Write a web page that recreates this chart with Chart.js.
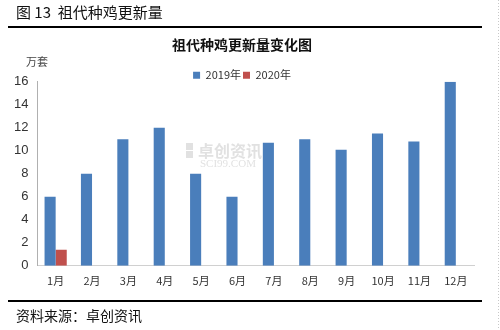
<!DOCTYPE html>
<html>
<head>
<meta charset="utf-8">
<script src="https://cdn.jsdelivr.net/npm/chart.js@4"></script>
<style>
  html, body { margin: 0; padding: 0; background: #fff; }
  #wrap { position: relative; width: 500px; height: 330px; }
</style>
</head>
<body>
<div id="wrap"><canvas id="chart" width="500" height="330"></canvas></div>
<script>
const months = ["1月", "2月", "3月", "4月", "5月", "6月", "7月", "8月", "9月", "10月", "11月", "12月"];
const values2019 = [6, 8, 11, 12, 8, 6, 10.7, 11, 10.1, 11.5, 10.8, 16];
const values2020 = [1.4, null, null, null, null, null, null, null, null, null, null, null];

const cjk = "'Noto Sans CJK SC', 'Microsoft YaHei', sans-serif";

// header, footer, unit label, watermark
const framePlugin = {
  id: "frame",
  beforeDraw(chart) {
    const c = chart.ctx;
    c.save();
    c.fillStyle = "#fff";
    c.fillRect(0, 0, chart.width, chart.height);

    // watermark
    c.fillStyle = "rgba(170,170,170,0.35)";
    c.fillRect(186, 143, 7, 7);
    c.fillRect(186, 151, 7, 7);
    c.font = "bold 16px " + cjk;
    c.textBaseline = "middle";
    c.fillText("卓创资讯", 198, 151);
    c.font = "11px 'Liberation Serif', serif";
    c.fillText("SCI99.COM", 200, 164);

    // dotted right border
    c.strokeStyle = "#c8c8c8";
    c.setLineDash([1, 2]);
    c.lineWidth = 1;
    c.beginPath();
    c.moveTo(498.5, 0);
    c.lineTo(498.5, 330);
    c.stroke();
    c.restore();
  },
  afterDraw(chart) {
    const c = chart.ctx;
    c.save();
    c.fillStyle = "#111";
    c.textBaseline = "middle";
    c.font = "15px " + cjk;
    c.fillText("图 13  祖代种鸡更新量", 16, 12);
    c.font = "14px " + cjk;
    c.fillText("资料来源：卓创资讯", 16, 316);

    c.strokeStyle = "#000";
    c.lineWidth = 2;
    c.beginPath();
    c.moveTo(8, 27);
    c.lineTo(482, 27);
    c.moveTo(8, 301);
    c.lineTo(482, 301);
    c.stroke();

    c.fillStyle = "#444";
    c.font = "11px " + cjk;
    c.textAlign = "center";
    c.fillText("万套", 37, 62);
    c.restore();
  }
};

new Chart(document.getElementById("chart"), {
  type: "bar",
  data: {
    labels: months,
    datasets: [
      { label: "2019年", data: values2019, backgroundColor: "#4a7ebb" },
      { label: "2020年", data: values2020, backgroundColor: "#c0504d" }
    ]
  },
  options: {
    responsive: false,
    animation: false,
    devicePixelRatio: 1,
    categoryPercentage: 0.61,
    barPercentage: 1.0,
    layout: { padding: { top: 36, bottom: 35, left: 10, right: 26 } },
    plugins: {
      title: {
        display: true,
        text: "祖代种鸡更新量变化图",
        color: "#111",
        font: { family: cjk, size: 14, weight: "bold" },
        padding: { top: 0, bottom: 15 }
      },
      legend: {
        display: true,
        position: "top",
        maxHeight: 14,
        labels: {
          boxWidth: 7,
          boxHeight: 7,
          padding: 2,
          color: "#333",
          font: { family: cjk, size: 11 }
        }
      },
      tooltip: { enabled: false }
    },
    scales: {
      x: {
        grid: { display: false, drawTicks: false },
        border: { color: "#d0d0d0" },
        ticks: { color: "#333", font: { family: cjk, size: 11 }, padding: 8, maxRotation: 0 }
      },
      y: {
        min: 0,
        max: 16,
        grid: { display: false, drawOnChartArea: false, drawTicks: true, tickLength: 5, color: "#b0b0b0" },
        border: { color: "#b0b0b0" },
        ticks: { stepSize: 2, color: "#333", font: { family: "'Liberation Sans', Arial, sans-serif", size: 13 }, padding: 4 }
      }
    }
  },
  plugins: [framePlugin]
});
</script>
</body>
</html>
